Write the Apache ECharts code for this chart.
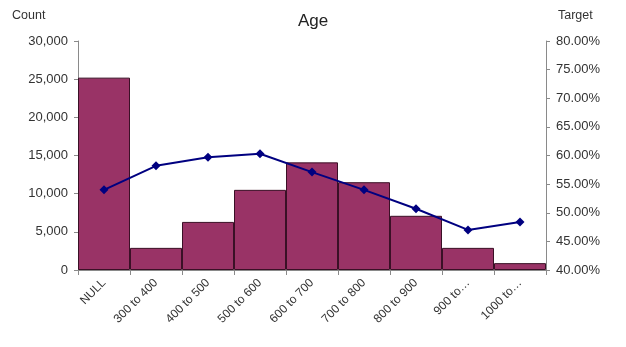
<!DOCTYPE html>
<html>
<head>
<meta charset="utf-8">
<script src="https://cdn.jsdelivr.net/npm/echarts@6/dist/echarts.min.js"></script>
<style>
  html, body { margin: 0; padding: 0; background: #fff; }
  #chart { width: 626px; height: 347px; }
</style>
</head>
<body>
<div id="chart"></div>
<script>
// Age bands
const categories = ['NULL', '300 to 400', '400 to 500', '500 to 600', '600 to 700',
                    '700 to 800', '800 to 900', '900 to…', '1000 to…'];
// Record count per band (left axis)
const counts = [25200, 2900, 6300, 10500, 14100, 11500, 7100, 2900, 900];
// Target rate per band, percent (right axis)
const targetPct = [54.0, 58.2, 59.7, 60.3, 57.1, 54.0, 50.7, 47.0, 48.4];

const chart = echarts.init(document.getElementById('chart'), null, { renderer: 'canvas' });
const font = 'Liberation Sans, Arial, sans-serif';
const axisGray = '#8a8a8a';
const textColor = '#333';

chart.setOption({
  animation: false,
  backgroundColor: '#fff',
  title: {
    text: 'Age',
    left: 'center',
    top: 8,
    textStyle: { fontFamily: font, fontSize: 17, fontWeight: 'normal', color: '#222' }
  },
  grid: { left: 78, right: 80, top: 41, bottom: 77 },
  xAxis: {
    type: 'category',
    data: categories,
    axisLine: { lineStyle: { color: axisGray } },
    axisTick: { show: true, alignWithLabel: false, length: 5, lineStyle: { color: axisGray } },
    axisLabel: {
      rotate: 45,
      interval: 0,
      margin: 11,
      fontFamily: font,
      fontSize: 12,
      color: textColor
    }
  },
  yAxis: [
    {
      type: 'value',
      name: 'Count',
      nameLocation: 'end',
      nameGap: 19,
      nameTextStyle: { fontFamily: font, fontSize: 12.5, color: textColor, align: 'left', padding: [0, 0, 0, -66] },
      min: 0,
      max: 30000,
      interval: 5000,
      axisLine: { show: true, lineStyle: { color: axisGray } },
      axisTick: { show: true, length: 4, lineStyle: { color: axisGray } },
      splitLine: { show: false },
      axisLabel: {
        fontFamily: font,
        fontSize: 13,
        color: textColor,
        margin: 10,
        formatter: v => v.toLocaleString('en-US')
      }
    },
    {
      type: 'value',
      name: 'Target',
      nameLocation: 'end',
      nameGap: 19,
      nameTextStyle: { fontFamily: font, fontSize: 12.5, color: textColor, align: 'left', padding: [0, 0, 0, 12] },
      min: 40,
      max: 80,
      interval: 5,
      position: 'right',
      axisLine: { show: true, lineStyle: { color: axisGray } },
      axisTick: { show: true, length: 4, lineStyle: { color: axisGray } },
      splitLine: { show: false },
      axisLabel: {
        fontFamily: font,
        fontSize: 13,
        color: textColor,
        margin: 10,
        formatter: v => v.toFixed(2) + '%'
      }
    }
  ],
  series: [
    {
      name: 'Count',
      type: 'bar',
      yAxisIndex: 0,
      data: counts,
      barWidth: '100%',
      barCategoryGap: '0%',
      itemStyle: { color: '#993366', borderColor: '#3a1026', borderWidth: 1 }
    },
    {
      name: 'Target',
      type: 'line',
      yAxisIndex: 1,
      data: targetPct,
      symbol: 'diamond',
      symbolSize: 9,
      lineStyle: { color: '#000080', width: 2 },
      itemStyle: { color: '#000080' }
    }
  ]
});
</script>
</body>
</html>
